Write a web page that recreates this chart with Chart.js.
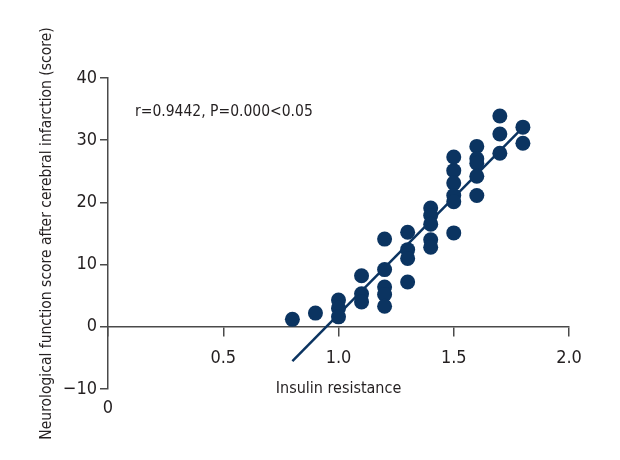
<!DOCTYPE html>
<html lang="en">
<head>
    <meta charset="UTF-8">
    <title>Insulin resistance vs neurological function score</title>
    <script src="https://cdn.jsdelivr.net/npm/chart.js"></script>
    <style>
        body { margin: 0; background: #fff; }
        #wrap { width: 620px; height: 460px; }
    </style>
</head>
<body>
    <div id="wrap"><canvas id="myChart"></canvas></div>
    <script>
        // values
        var insulinResistance = [0.8, 0.9, 1.0, 1.0, 1.0, 1.1, 1.1, 1.1,
            1.2, 1.2, 1.2, 1.2, 1.2, 1.3, 1.3, 1.3, 1.3,
            1.4, 1.4, 1.4, 1.4, 1.4, 1.5, 1.5, 1.5, 1.5, 1.5, 1.5,
            1.6, 1.6, 1.6, 1.6, 1.6, 1.7, 1.7, 1.7, 1.8, 1.8];
        var neuroScore = [1.2, 2.2, 4.3, 3.0, 1.6, 8.2, 5.3, 4.0,
            14.1, 9.2, 6.4, 5.2, 3.3, 15.2, 12.4, 11.0, 7.2,
            19.1, 17.9, 16.5, 14.0, 12.8, 27.3, 25.1, 23.1, 21.1, 20.1, 15.1,
            29.0, 27.0, 26.3, 24.2, 21.1, 33.9, 31.0, 27.9, 32.1, 29.5];
        var fitLineX = [0.8, 1.78];
        var fitLineY = [-5.5, 31.3];
        var xTicks = [0, 0.5, 1.0, 1.5, 2.0];
        var yTicks = [-10, 0, 10, 20, 30, 40];
        var statText = 'r=0.9442, P=0.000<0.05';

        var navy = '#0b3461';
        var axisColor = '#4a4a4a';
        var textColor = '#231f20';
        var fontFamily = "'Liberation Sans Narrow', 'DejaVu Sans Condensed', sans-serif";

        Chart.defaults.font.family = fontFamily;
        Chart.defaults.color = textColor;

        var points = insulinResistance.map(function (v, i) { return { x: v, y: neuroScore[i] }; });
        var fitLine = fitLineX.map(function (v, i) { return { x: v, y: fitLineY[i] }; });

        // extra texts: the stray "0" under the y axis and the r / P note
        var extraText = {
            id: 'extraText',
            afterDraw: function (chart) {
                var ctx = chart.ctx, x = chart.scales.x, y = chart.scales.y;
                ctx.save();
                ctx.fillStyle = textColor;
                ctx.font = '18px ' + fontFamily;
                ctx.textBaseline = 'middle';
                ctx.textAlign = 'center';
                ctx.fillText('0', x.getPixelForValue(0), y.getPixelForValue(-10) + 19);
                ctx.textAlign = 'left';
                ctx.font = '15.5px ' + fontFamily;
                ctx.fillText(statText, x.left + 27, y.getPixelForValue(34.5));
                ctx.restore();
            }
        };

        var ctx = document.getElementById('myChart').getContext('2d');
        var myChart = new Chart(ctx, {
            type: 'scatter',
            data: {
                datasets: [{
                    data: points,
                    backgroundColor: navy,
                    borderColor: navy,
                    pointRadius: 7.5,
                    pointHoverRadius: 7.5,
                    borderWidth: 0,
                    order: 1
                }, {
                    data: fitLine,
                    showLine: true,
                    borderColor: navy,
                    borderWidth: 2.5,
                    pointRadius: 0,
                    order: 2
                }]
            },
            options: {
                responsive: true,
                maintainAspectRatio: false,
                animation: false,
                layout: { padding: { left: 30, right: 51, top: 78, bottom: 71 } },
                plugins: { legend: { display: false }, tooltip: { enabled: false } },
                scales: {
                    x: {
                        type: 'linear',
                        min: xTicks[0],
                        max: xTicks[xTicks.length - 1],
                        position: { y: 0 },
                        afterFit: function (s) { s.height = 72; },
                        afterBuildTicks: function (s) { s.ticks = xTicks.map(function (v) { return { value: v }; }); },
                        grid: { drawOnChartArea: false, drawTicks: true, tickLength: 9, color: axisColor, lineWidth: 1.5 },
                        border: { color: axisColor, width: 1.5 },
                        ticks: {
                            padding: 12,
                            font: { size: 18 },
                            color: textColor,
                            maxRotation: 0,
                            callback: function (v) { return v === 0 ? '' : v.toFixed(1); }
                        },
                        title: {
                            display: true,
                            text: 'Insulin resistance',
                            font: { size: 16 },
                            color: textColor,
                            padding: { top: 4, bottom: 0 }
                        }
                    },
                    y: {
                        type: 'linear',
                        min: yTicks[0],
                        max: yTicks[yTicks.length - 1],
                        position: 'left',
                        afterFit: function (s) { s.width = 78; },
                        afterBuildTicks: function (s) { s.ticks = yTicks.map(function (v) { return { value: v }; }); },
                        grid: { drawOnChartArea: false, drawTicks: true, tickLength: 8, color: axisColor, lineWidth: 1.5 },
                        border: { color: axisColor, width: 1.5 },
                        ticks: {
                            padding: 3,
                            font: { size: 18 },
                            color: textColor,
                            callback: function (v) { return v < 0 ? '\u2212' + Math.abs(v) : String(v); }
                        },
                        title: {
                            display: true,
                            text: 'Neurological function score after cerebral infarction (score)',
                            font: { size: 15.5 },
                            color: textColor,
                            padding: { top: 8, bottom: 4 }
                        }
                    }
                }
            },
            plugins: [extraText]
        });
    </script>
</body>
</html>
